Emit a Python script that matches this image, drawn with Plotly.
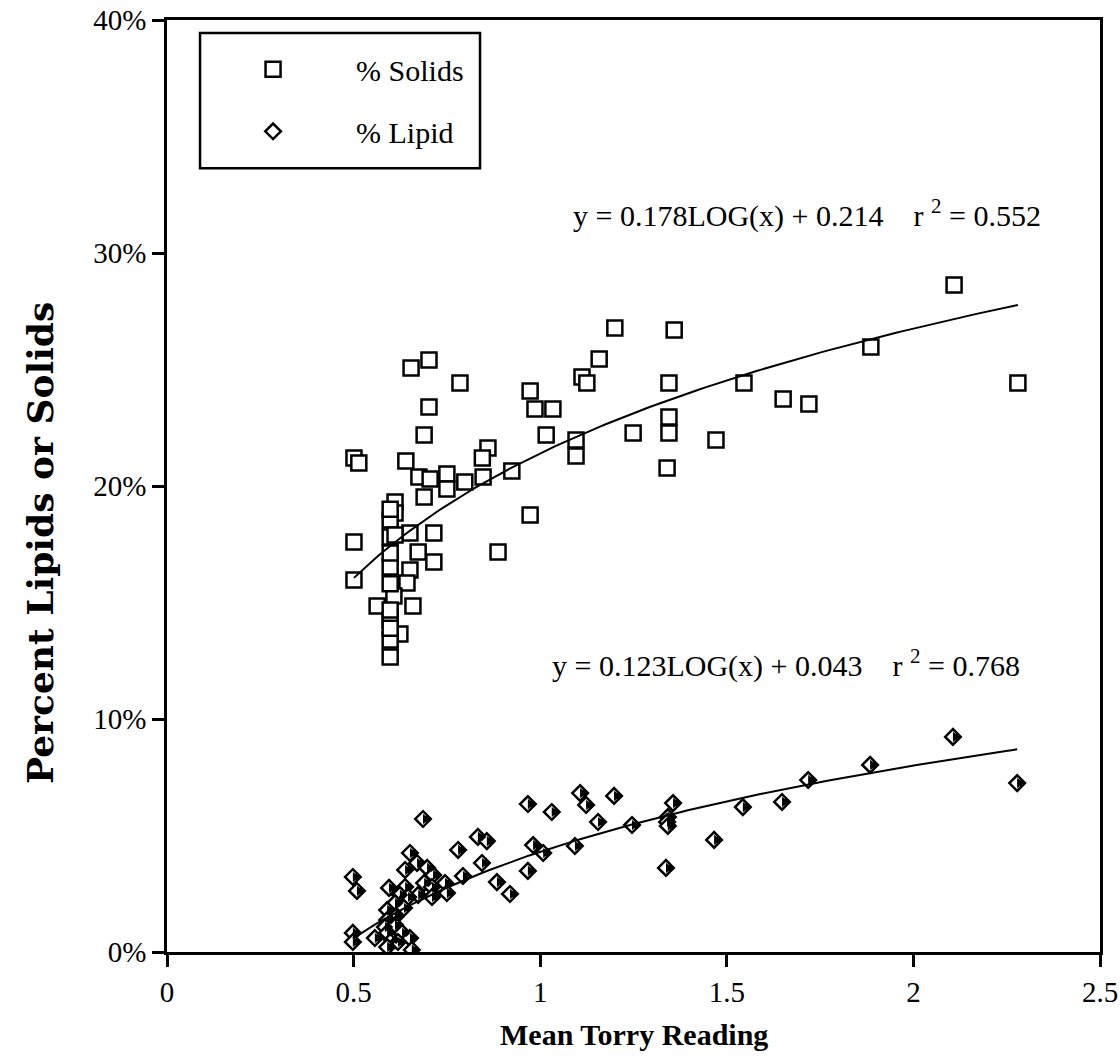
import numpy as np
import plotly.graph_objects as go

# ---------------- data ----------------
solids_x = [1.200, 1.359, 1.158, 1.112, 1.125, 0.973, 0.986, 1.034, 1.345, 1.546,
            1.651, 1.016, 1.096, 1.096, 1.249, 1.345, 1.345, 1.471, 1.340, 0.924,
            0.860, 0.845, 0.847, 0.973, 0.887, 2.109, 1.886, 2.280, 1.720, 0.702,
            0.654, 0.785, 0.702, 0.689, 0.501, 0.514, 0.640, 0.675, 0.705, 0.750,
            0.750, 0.798, 0.689, 0.611, 0.611, 0.501, 0.501, 0.651, 0.715, 0.673,
            0.715, 0.651, 0.598, 0.643, 0.563, 0.659, 0.608, 0.598, 0.624, 0.598,
            0.598, 0.598, 0.598, 0.598, 0.598, 0.598, 0.598, 0.598, 0.611]
solids_y = [26.78, 26.70, 25.45, 24.68, 24.42, 24.08, 23.30, 23.30, 24.42, 24.42,
            23.73, 22.19, 21.97, 21.29, 22.27, 22.96, 22.27, 21.97, 20.77, 20.64,
            21.63, 21.20, 20.39, 18.76, 17.17, 28.63, 25.97, 24.42, 23.52, 25.41,
            25.06, 24.42, 23.39, 22.19, 21.20, 20.99, 21.07, 20.39, 20.30, 20.52,
            19.87, 20.17, 19.53, 19.31, 18.84, 17.60, 15.97, 17.98, 17.98, 17.17,
            16.74, 16.39, 16.52, 15.84, 14.85, 14.85, 15.28, 14.25, 13.65, 13.39,
            12.66, 18.54, 17.81, 17.12, 14.68, 19.00, 15.80, 13.90, 17.90]

lipid_x = [0.498, 0.509, 0.498, 0.498, 0.686, 0.651, 0.670, 0.638, 0.697, 0.713,
           0.689, 0.710, 0.745, 0.750, 0.710, 0.673, 0.638, 0.595, 0.624, 0.646,
           0.611, 0.590, 0.635, 0.611, 0.590, 0.584, 0.611, 0.557, 0.590, 0.603,
           0.630, 0.651, 0.590, 0.619, 0.656, 0.793, 0.844, 0.833, 0.857, 0.780,
           0.884, 0.919, 0.967, 0.967, 1.031, 1.107, 1.123, 1.198, 1.155, 1.246,
           0.981, 1.008, 1.093, 1.356, 1.342, 1.340, 1.342, 1.337, 1.466, 1.543,
           1.648, 1.718, 1.884, 2.106, 2.278]
lipid_y = [3.22, 2.62, 0.82, 0.43, 5.71, 4.25, 3.82, 3.52, 3.61, 3.30,
           2.96, 2.79, 2.96, 2.53, 2.36, 2.45, 2.79, 2.75, 2.45, 2.36,
           2.10, 1.80, 1.89, 1.50, 1.37, 1.07, 1.16, 0.60, 0.82, 0.52,
           0.82, 0.60, 0.21, 0.43, 0.09, 3.26, 3.82, 4.94, 4.76, 4.38,
           3.00, 2.49, 6.35, 3.48, 6.01, 6.82, 6.31, 6.70, 5.58, 5.45,
           4.59, 4.25, 4.55, 6.39, 5.79, 5.58, 5.41, 3.61, 4.81, 6.22,
           6.44, 7.38, 8.03, 9.23, 7.25]

# logarithmic trend line coefficients, as printed on the chart
solids_fit = (0.178, 0.214, 0.552)
lipid_fit = (0.123, 0.043, 0.768)

x_tickvals = [0, 0.5, 1, 1.5, 2, 2.5]
x_ticktext = ["0", "0.5", "1", "1.5", "2", "2.5"]
y_tickvals = [0, 0.1, 0.2, 0.3, 0.4]
y_ticktext = ["0%", "10%", "20%", "30%", "40%"]

# ---------------- figure ----------------
SERIF = "Liberation Serif, Times New Roman, serif"
fig = go.Figure()

sy = [v / 100 for v in solids_y]
ly = [v / 100 for v in lipid_y]

fig.add_trace(go.Scatter(
    x=solids_x, y=sy, mode="markers", name="% Solids",
    legendgroup="a",
    marker=dict(symbol="square", size=15, color="white",
                line=dict(color="black", width=2.5)),
))

# lipid: outlined diamond + black right half (built from two filled shapes)
fig.add_trace(go.Scatter(
    x=lipid_x, y=ly, mode="markers", name="% Lipid",
    legendgroup="b",
    marker=dict(symbol="diamond", size=12, color="white",
                line=dict(color="black", width=2.5)),
))
fig.add_trace(go.Scatter(
    x=lipid_x, y=ly, mode="markers", showlegend=False, hoverinfo="skip",
    legendgroup="b",
    marker=dict(symbol="triangle-down", size=8.8, angle=-90, standoff=2.2,
                color="black", line=dict(width=0)),
))
fig.add_trace(go.Scatter(
    x=lipid_x, y=ly, mode="markers", showlegend=False, hoverinfo="skip",
    legendgroup="b",
    marker=dict(symbol="diamond", size=6.5, angle=-90, standoff=4.1,
                color="black", line=dict(width=0)),
))

# trend lines
for xs, (a, b, r2) in ((solids_x, solids_fit), (lipid_x, lipid_fit)):
    xl = np.linspace(min(xs), max(xs), 120)
    fig.add_trace(go.Scatter(
        x=xl, y=a * np.log10(xl) + b, mode="lines", showlegend=False,
        hoverinfo="skip", line=dict(color="black", width=2),
    ))

sp = "\u00a0"
def eq_text(a, b, r2):
    return (f"y = {a:.3f}LOG(x) + {b:.3f}{sp*4}r{sp}<sup>2</sup> = {r2:.3f}")

fig.add_annotation(x=2.347, y=0.317, xref="x", yref="y", xanchor="right",
                   yanchor="middle", showarrow=False, text=eq_text(*solids_fit),
                   font=dict(family=SERIF, size=30, color="black"))
fig.add_annotation(x=2.291, y=0.124, xref="x", yref="y", xanchor="right",
                   yanchor="middle", showarrow=False, text=eq_text(*lipid_fit),
                   font=dict(family=SERIF, size=30, color="black"))

# axis titles
fig.add_annotation(x=0.5, y=-0.089, xref="paper", yref="paper",
                   xanchor="center", yanchor="middle", showarrow=False,
                   text="<b>Mean Torry Reading</b>",
                   font=dict(family=SERIF, size=30, color="black"))
fig.add_annotation(x=-0.136, y=0.439, xref="paper", yref="paper",
                   xanchor="center", yanchor="middle", showarrow=False,
                   textangle=-90, text="<b>Percent Lipids or Solids</b>",
                   font=dict(family="DejaVu Serif, serif", size=36, color="black"))

# legend frame
fig.add_shape(type="rect", xref="paper", yref="paper",
              x0=0.0354, x1=0.3355, y0=0.841, y1=0.986,
              line=dict(color="black", width=2.5), fillcolor="white",
              layer="below")

axis_common = dict(showline=True, linecolor="black", linewidth=2.5, mirror=True,
                   ticks="outside", ticklen=12, tickwidth=2.5, tickcolor="black",
                   showgrid=False, zeroline=False, automargin=False,
                   ticklabeloverflow="allow",
                   tickfont=dict(family=SERIF, size=29, color="black"))

fig.update_xaxes(range=[0, 2.5], tickvals=x_tickvals, ticktext=x_ticktext,
                 **axis_common)
fig.update_yaxes(range=[0, 0.4], tickvals=y_tickvals, ticktext=y_ticktext,
                 **axis_common)

fig.update_layout(
    width=1120, height=1063,
    margin=dict(l=167, r=20, t=20, b=111),
    paper_bgcolor="white", plot_bgcolor="white",
    font=dict(family=SERIF, size=30, color="black"),
    legend=dict(x=0.0247, y=0.975, xanchor="left", yanchor="top",
                bgcolor="rgba(0,0,0,0)", borderwidth=0,
                itemwidth=156, tracegroupgap=20, traceorder="grouped",
                font=dict(family=SERIF, size=30, color="black")),
)

# remove the default page margin so the 1120x1063 figure fills the window
fig.write_html(
    "out.html",
    config={"displayModeBar": False},
    post_script="document.body.style.margin='0';"
                "document.body.style.overflow='hidden';",
)
